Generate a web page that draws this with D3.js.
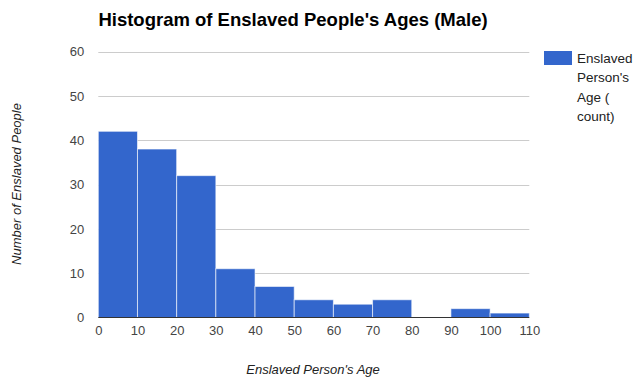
<!DOCTYPE html>
<html>
<head>
<meta charset="utf-8">
<script src="https://cdn.jsdelivr.net/npm/d3@7"></script>
<style>
  html, body { margin: 0; padding: 0; background: #fff; }
  svg { display: block; font-family: "Liberation Sans", Arial, sans-serif; }
</style>
</head>
<body>
<svg id="chart" width="635" height="379"></svg>
<script>
// Histogram bins (age ranges, in years) and male counts per bin
const binStarts = [0, 10, 20, 30, 40, 50, 60, 70, 80, 90, 100];
const binWidth = 10;
const counts = [42, 38, 32, 11, 7, 4, 3, 4, 0, 2, 1];
const xTicks = [0, 10, 20, 30, 40, 50, 60, 70, 80, 90, 100, 110];
const yTicks = [0, 10, 20, 30, 40, 50, 60];

const title = "Histogram of Enslaved People's Ages (Male)";
const xTitle = "Enslaved Person's Age";
const yTitle = "Number of Enslaved People";
const legendLines = ["Enslaved", "Person's", "Age (", "count)"];

const svg = d3.select("#chart");
const plot = { left: 98.3, right: 529.3, top: 51.5, bottom: 317.5 };

const x = d3.scaleLinear().domain([0, 110]).range([plot.left, plot.right]);
const y = d3.scaleLinear().domain([0, 60]).range([plot.bottom, plot.top]);

// Title
svg.append("text")
  .attr("x", 293).attr("y", 26)
  .attr("text-anchor", "middle")
  .attr("font-size", 18.5).attr("font-weight", "bold")
  .attr("fill", "#000")
  .text(title);

// Horizontal gridlines
svg.append("g")
  .selectAll("line")
  .data(yTicks.filter(d => d !== 0))
  .join("line")
  .attr("x1", plot.left).attr("x2", plot.right)
  .attr("y1", d => Math.round(y(d)) + 0.5).attr("y2", d => Math.round(y(d)) + 0.5)
  .attr("stroke", "#cccccc").attr("stroke-width", 1);

// Y axis labels
const yAxis = d3.axisLeft(y).tickValues(yTicks).tickSize(0).tickPadding(0);
const gy = svg.append("g").attr("transform", `translate(${plot.left - 14},0)`).call(yAxis);
gy.select(".domain").remove();
gy.selectAll("text")
  .attr("font-size", 13).attr("fill", "#444")
  .attr("font-family", "Liberation Sans, Arial, sans-serif");

// Bars
svg.append("g")
  .selectAll("rect")
  .data(binStarts.map((s, i) => ({ start: s, count: counts[i] })).filter(d => d.count > 0))
  .join("rect")
  .attr("x", d => x(d.start))
  .attr("width", d => x(d.start + binWidth) - x(d.start))
  .attr("y", d => y(d.count))
  .attr("height", d => y(0) - y(d.count))
  .attr("fill", "#3366cc")
  .attr("stroke", "#ffffff").attr("stroke-opacity", 0.6).attr("stroke-width", 1);

// Baseline
svg.append("line")
  .attr("x1", plot.left).attr("x2", plot.right)
  .attr("y1", y(0)).attr("y2", y(0))
  .attr("stroke", "#333").attr("stroke-width", 1);

// X axis labels
const xAxis = d3.axisBottom(x).tickValues(xTicks).tickSize(0).tickPadding(0);
const gx = svg.append("g").attr("transform", `translate(0,${plot.bottom + 8})`).call(xAxis);
gx.select(".domain").remove();
gx.selectAll("text")
  .attr("font-size", 13).attr("fill", "#444")
  .attr("font-family", "Liberation Sans, Arial, sans-serif");

// Axis titles
svg.append("text")
  .attr("x", 313).attr("y", 374)
  .attr("text-anchor", "middle")
  .attr("font-size", 13).attr("font-style", "italic").attr("fill", "#222")
  .text(xTitle);

svg.append("text")
  .attr("transform", "translate(21,184) rotate(-90)")
  .attr("text-anchor", "middle")
  .attr("font-size", 13).attr("font-style", "italic").attr("fill", "#222")
  .text(yTitle);

// Legend
const legend = svg.append("g");
legend.append("rect")
  .attr("x", 544).attr("y", 51).attr("width", 28).attr("height", 14)
  .attr("fill", "#3366cc");
legend.selectAll("text")
  .data(legendLines)
  .join("text")
  .attr("x", 577).attr("y", (d, i) => 63 + i * 19.3)
  .attr("font-size", 13.5).attr("fill", "#222")
  .text(d => d);
</script>
</body>
</html>
